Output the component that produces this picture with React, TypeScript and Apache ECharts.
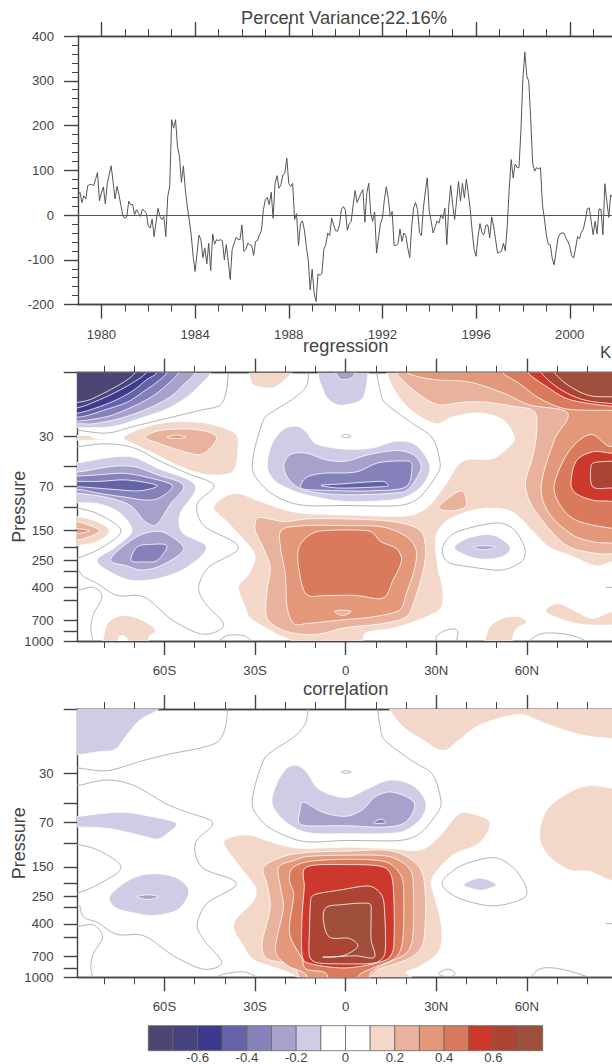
import React, { useEffect, useRef } from "react";
import * as echarts from "echarts";

const FONT = "Liberation Sans";
const INK = "#444";

const startYear = 1979;
const monthlyIndex = [
  45, 51, 28, 43, 36, 66, 68, 68, 66, 80, 95, 32, 49, 63, 25, 70, 90, 110, 73, 36, 64, 45, 21, -1, -7, -4, 31, 23, 24, 1, 12, 4,
  -3, 13, 10, 4, -24, -29, -9, -48, -16, 15, -3, -10, -3, -48, 42, 64, 213, 194, 213, 153, 131, 73, 110, 57, 19, -10, -44, -92, -126, -85,
  -45, -55, -95, -74, -109, -63, -124, -42, -65, -55, -57, -55, -57, -100, -66, -103, -144, -77, -63, -50, -54, -55, -22, -81, -77, -63, -66, -68, -90, -59,
  -57, -44, -35, 12, 34, 39, 23, 51, -7, 71, 88, 60, 68, 90, 94, 127, 71, 64, 71, -10, 3, -68, -19, -13, -33, -70, -100, -167,
  -121, -174, -193, -131, -135, -130, -76, -66, -40, -46, -7, -22, -35, -36, -22, 13, 19, 12, -34, -19, -14, 23, 55, 28, 38, 49, 57, -16,
  49, 71, 4, -14, 7, -85, -51, -19, -7, 34, 63, 38, -3, 8, -68, -68, -64, -31, -59, -40, -46, -74, -95, -25, 16, 28, 12, -39,
  -46, 16, 53, 83, 8, -14, -40, -27, -13, -18, 1, -8, 16, -66, 19, 66, 23, -10, 31, 75, 31, 71, 38, 80, 49, 12, -36, -77,
  -92, -48, -19, -40, -44, -23, -22, -51, -4, -25, -55, -85, -83, -81, -63, -80, -22, 60, 124, 83, 114, 106, 106, 191, 306, 364, 310, 299, 213, 116,
  98, 106, 103, 106, 23, -7, -44, -65, -66, -96, -111, -81, -51, -42, -40, -40, -51, -59, -70, -90, -96, -74, -48, -53, -38, -31, -10, 14, 16, -14,
  -44, -14, -42, 14, 12, -44, 70, 31, -5, 45, 39,
];
const yearMajor = [1980, 1984, 1988, 1992, 1996, 2000];
const yearMinor = [1981, 1982, 1983, 1985, 1986, 1987, 1989, 1990, 1991, 1993, 1994, 1995, 1997, 1998, 1999, 2001, 2002];

const latMajor = [-60, -30, 0, 30, 60];
const latMinor = [-80, -70, -50, -40, -20, -10, 10, 20, 40, 50, 70, 80];
const latNames: Record<string, string> = { "-60": "60S", "-30": "30S", "0": "0", "30": "30N", "60": "60N" };
const pressureTicks = [10, 30, 50, 70, 100, 150, 200, 250, 300, 400, 500, 700, 850, 1000];
const pressureLabels = [30, 70, 150, 250, 400, 700, 1000];

const palette = ["#4b4672", "#47437f", "#3b3a8c", "#6563a8", "#8582bb", "#a7a1cc", "#cfcce6", "#ffffff", "#ffffff", "#f3d8c9", "#e9b29c", "#e29879", "#da7a5c", "#cc392c", "#ab4432", "#9e4f3b"];
const barEdges = [-0.8, -0.7, -0.6, -0.5, -0.4, -0.3, -0.2, -0.1, 0, 0.1, 0.2, 0.3, 0.4, 0.5, 0.6, 0.7, 0.8];
const barLabels = [-0.6, -0.4, -0.2, 0, 0.2, 0.4, 0.6];

type Pt = number[];
// [colour class, contour as [latitude, log10 pressure]]
const regressionWarm: [number, Pt[]][] = [
  [9, [[-43.7,2.0],[-37.1,1.9],[-29.4,1.95],[-20.5,2.02],[-13.1,2.05],[0,2.06],[14.5,2.07],[22.2,2.06],[27.7,1.99],[33.2,1.83],[38.7,1.66],[48.7,1.64],[54.2,1.55],[55.9,1.48],[52,1.35],[44.3,1.3],[35.4,1.33],[29.9,1.38],[22.2,1.29],[16.7,1.15],[13.9,1.02],[13,0.9],[96,0.9],[96,2.41],[88.2,2.41],[82.9,2.44],[75.2,2.37],[67.4,2.3],[61.9,2.18],[55.3,2.04],[47.6,2.01],[39.8,2.04],[33.2,2.11],[29.9,2.22],[30.5,2.45],[32.1,2.61],[31.6,2.75],[26.6,2.82],[16.7,2.9],[6.7,2.94],[5.6,3.02],[5.6,3.1],[-16,3.1],[-16,3.02],[-22.7,2.95],[-31.6,2.83],[-33.2,2.75],[-35.5,2.6],[-32.1,2.5],[-30,2.37],[-32.8,2.27],[-39.3,2.11]]],
  [9, [[45.9,3.06],[45.9,3.02],[47.6,2.9],[52,2.83],[57.5,2.82],[59.9,2.86],[56.4,2.91],[55.1,3.0],[55.1,3.06]]],
  [9, [[66.3,2.78],[70.2,2.72],[76.3,2.78],[81.8,2.83],[88.2,2.78],[96,2.75],[96,2.85],[88.2,2.88],[80,2.88],[73,2.85]]],
  [9, [[-31,1.08],[-27.2,1.11],[-23.8,1.11],[-20,1.05],[-17.2,0.96],[-31,0.96]]],
  [9, [[-73.5,1.48],[-66.9,1.41],[-59.2,1.37],[-48.1,1.37],[-39.3,1.42],[-35.8,1.48],[-36.2,1.68],[-38.2,1.75],[-45.9,1.76],[-54.8,1.7],[-63.6,1.6],[-70.2,1.53]]],
  [10, [[-66.4,1.48],[-61.4,1.43],[-52.5,1.42],[-45.9,1.44],[-42.8,1.48],[-44.3,1.55],[-48.1,1.61],[-54.8,1.58],[-61.4,1.53]]],
  [11, [[-59.2,1.48],[-55.9,1.465],[-52.8,1.48],[-55.9,1.49]]],
  [9, [[-80,1.47],[-84.6,1.48],[-80,1.5],[-95,1.5],[-95,1.47]]],
  [9, [[-95,2.07],[-89.5,2.07],[-82.4,2.11],[-78.2,2.18],[-82.4,2.26],[-89.5,2.29],[-95,2.29]]],
  [10, [[-95,2.11],[-89.5,2.11],[-84.6,2.14],[-81.5,2.18],[-84.6,2.22],[-89.5,2.25],[-95,2.25]]],
  [11, [[-95,2.16],[-89.5,2.16],[-84.8,2.18],[-89.5,2.2],[-95,2.2]]],
  [9, [[-79.5,3.1],[-79.5,2.9],[-76.8,2.83],[-72.4,2.81],[-66.9,2.85],[-63,2.92],[-65.2,2.97],[-66.9,3.1]]],
  [7, [[-76,3.1],[-75.1,2.97],[-73.5,2.96],[-72.4,2.99],[-72.4,3.1]]],
  [10, [[-28.8,2.08],[-20.5,2.11],[-13.1,2.09],[0,2.09],[15.6,2.11],[24.4,2.17],[26.4,2.3],[25.7,2.47],[22.7,2.7],[20,2.82],[12.3,2.87],[0,2.9],[-9.8,2.95],[-19.4,2.93],[-26,2.83],[-26,2.62],[-25,2.45],[-27.2,2.31],[-30,2.17]]],
  [11, [[-21.1,2.17],[-13,2.14],[0,2.14],[12.3,2.15],[20,2.22],[23.3,2.32],[22.7,2.47],[20,2.65],[17.8,2.77],[8.9,2.82],[0,2.84],[-13.1,2.87],[-17.2,2.87],[-19.4,2.75],[-20,2.5],[-21.6,2.3]]],
  [12, [[-15.6,2.31],[-13.1,2.23],[-8.7,2.18],[7.8,2.18],[11.7,2.26],[16.7,2.31],[18.5,2.4],[15.6,2.55],[12.3,2.68],[3.4,2.66],[-6.5,2.66],[-13.1,2.65],[-15.6,2.45]]],
  [10, [[-3.8,2.78],[-1,2.77],[1.8,2.78],[-1,2.81]]],
  [10, [[14,0.9],[16.7,1.0],[20,1.08],[25.5,1.18],[31,1.24],[38.7,1.22],[46.5,1.22],[55.3,1.25],[62.5,1.29],[63.2,1.45],[61.9,1.63],[59.5,1.83],[61.9,2.0],[69.6,2.22],[75.2,2.31],[84,2.35],[88.2,2.35],[96,2.35],[96,0.9]]],
  [11, [[19,0.9],[20.5,1.0],[28.8,1.05],[41,1.07],[52,1.15],[60.8,1.24],[73.5,1.3],[69.1,1.5],[64.7,1.85],[67.4,2.05],[75.2,2.21],[81.8,2.26],[88.2,2.27],[96,2.27],[96,0.9]]],
  [12, [[50,0.9],[52,1.0],[57.5,1.08],[64.1,1.19],[73,1.27],[88.2,1.28],[96,1.28],[96,0.9]]],
  [13, [[58,0.9],[60.3,1.0],[66.3,1.1],[74.1,1.2],[88.2,1.25],[96,1.25],[96,0.9]]],
  [14, [[62.5,0.9],[64.7,1.0],[70.8,1.12],[78.5,1.2],[88.2,1.23],[96,1.23],[96,0.9]]],
  [15, [[67,0.9],[69.1,1.0],[74.1,1.1],[80.7,1.17],[88.2,1.18],[96,1.18],[96,0.9]]],
  [12, [[81.2,1.46],[74.1,1.58],[69.1,1.83],[70.8,1.98],[76.3,2.1],[88.2,2.16],[96,2.16],[96,1.4],[88.2,1.55]]],
  [13, [[74.6,1.83],[76.3,1.66],[81.8,1.59],[88.2,1.6],[96,1.6],[96,2.0],[88.2,1.96],[81.8,1.95],[76.3,1.9]]],
  [14, [[81.2,1.7],[82.3,1.67],[88.2,1.66],[96,1.66],[96,1.87],[88.2,1.86],[81.8,1.85]]],
  [10, [[30.8,2.0],[38.2,1.88],[39.8,1.995],[34.3,2.03]]],
];
const regressionCool: [number, Pt[]][] = [
  [6, [[-44.6,1],[-48.1,1.09],[-52.5,1.18],[-59.2,1.27],[-68,1.34],[-76.8,1.4],[-84.6,1.41],[-88.5,1.41],[-95,1.41],[-95,0.9],[-43,0.9]]],
  [5, [[-49.8,1],[-53.7,1.09],[-58.1,1.18],[-65.8,1.27],[-74.6,1.34],[-83.5,1.38],[-88.5,1.38],[-95,1.38],[-95,0.9],[-48,0.9]]],
  [4, [[-55.3,1],[-59.2,1.09],[-63.6,1.17],[-70.2,1.25],[-77.9,1.32],[-84.6,1.35],[-88.5,1.36],[-95,1.36],[-95,0.9],[-54,0.9]]],
  [3, [[-59.2,1],[-62.5,1.07],[-66.9,1.14],[-72.4,1.22],[-80.1,1.28],[-85.7,1.32],[-88.5,1.33],[-95,1.33],[-95,0.9],[-58,0.9]]],
  [2, [[-62.5,1],[-65.8,1.05],[-70.2,1.13],[-75.7,1.2],[-82.4,1.26],[-88.5,1.3],[-95,1.31],[-95,0.9],[-61,0.9]]],
  [1, [[-66.1,1],[-70.2,1.07],[-75.7,1.14],[-82.4,1.21],[-88.5,1.26],[-95,1.27],[-95,0.9],[-65,0.9]]],
  [0, [[-69.7,1],[-73.5,1.07],[-79,1.14],[-84.6,1.2],[-88.5,1.22],[-95,1.23],[-95,0.9],[-68,0.9]]],
  [6, [[-95,1.67],[-88.5,1.67],[-77.9,1.63],[-70.2,1.63],[-62.5,1.71],[-49.8,1.84],[-54.8,2.05],[-54.2,2.19],[-46.1,2.3],[-52.5,2.45],[-61.4,2.53],[-70.2,2.55],[-76.8,2.5],[-82.4,2.4],[-76.3,2.3],[-70.8,2.18],[-74.6,2.05],[-81.3,1.98],[-88.5,1.97],[-95,1.97]]],
  [5, [[-95,1.74],[-88.5,1.74],[-77.9,1.7],[-70.2,1.7],[-62.5,1.76],[-53.7,1.84],[-58.1,1.98],[-61.4,2.1],[-63.6,2.14],[-66.9,2.1],[-71.3,1.99],[-79,1.93],[-88.5,1.9],[-95,1.9]]],
  [4, [[-95,1.77],[-88.5,1.77],[-81.3,1.76],[-73.5,1.75],[-65.8,1.78],[-57.5,1.84],[-61.4,1.93],[-65.8,1.95],[-72.4,1.93],[-81.3,1.9],[-88.5,1.87],[-95,1.87]]],
  [3, [[-95,1.81],[-88.5,1.81],[-81.3,1.81],[-72.4,1.8],[-62.5,1.84],[-68,1.88],[-76.8,1.87],[-88.5,1.85],[-95,1.85]]],
  [5, [[-77.9,2.4],[-73.5,2.29],[-66.9,2.2],[-60.3,2.19],[-53.7,2.3],[-55.9,2.37],[-62.5,2.45],[-68,2.47],[-72.4,2.44]]],
  [4, [[-71.1,2.4],[-69.1,2.3],[-64.7,2.28],[-59.2,2.29],[-62.5,2.4],[-66.9,2.41]]],
  [6, [[-26,1.7],[-24.4,1.53],[-20.5,1.42],[-16.1,1.4],[-13.1,1.44],[-9.8,1.53],[0,1.57],[8.9,1.56],[16.7,1.51],[23.3,1.54],[27.9,1.7],[25,1.85],[17.8,1.94],[0,1.96],[-13.1,1.91],[-19.4,1.86],[-23.8,1.8]]],
  [5, [[-20.5,1.7],[-18.3,1.61],[-13,1.6],[-6.5,1.65],[0,1.66],[7.8,1.61],[16.7,1.58],[22.2,1.61],[25,1.7],[22.2,1.83],[18.9,1.89],[0,1.91],[-13.1,1.88],[-18.3,1.81]]],
  [4, [[-15,1.85],[-13,1.78],[-7.6,1.75],[3.4,1.74],[11.1,1.67],[21.1,1.66],[22,1.7],[20,1.85],[8.9,1.88],[-2.1,1.88],[-13.1,1.87]]],
  [3, [[-8.2,1.84],[-2.1,1.83],[12.3,1.81],[14.2,1.84],[12.3,1.85],[-2.1,1.86]]],
  [6, [[-8.2,0.95],[-7.1,1.15],[-3.8,1.23],[0,1.24],[5.6,1.19],[7.3,1.02],[7.3,0.95]]],
  [5, [[-3.8,0.95],[-2.1,1.04],[0,1.05],[2.3,1.03],[3.4,0.95]]],
  [6, [[36,2.3],[40.9,2.23],[48.7,2.21],[54.4,2.3],[52,2.37],[45.4,2.39],[39.8,2.36]]],
  [5, [[42.1,2.3],[45.9,2.29],[49.8,2.3],[45.9,2.32]]],
];
const regressionZero: [boolean, Pt[]][] = [
  [false, [[-38.8,0.98],[-39.5,1.13],[-41.5,1.24],[-48.1,1.28],[-59.2,1.34],[-70.2,1.4],[-79,1.45],[-88.5,1.43],[-92,1.43]]],
  [false, [[-92,1.55],[-88.5,1.55],[-79,1.53],[-70.2,1.56],[-61.4,1.66],[-52.5,1.75],[-43.7,1.84],[-49.2,1.98],[-47,2.14],[-35.5,2.3],[-45.4,2.45],[-48.7,2.6],[-46.5,2.72],[-40.4,2.88],[-47,2.95],[-57,2.85],[-66.9,2.67],[-75.7,2.66],[-82.4,2.57],[-86.8,2.52],[-88.5,2.47]]],
  [false, [[-92,2.0],[-88.5,2.01],[-81.3,2.06],[-74.4,2.18],[-81.3,2.31],[-88.5,2.38],[-92,2.39]]],
  [false, [[-92,2.62],[-88.5,2.62],[-83.5,2.6],[-80.7,2.67],[-83.5,2.8],[-84.4,2.9],[-83.5,3.03]]],
  [false, [[-12.3,0.98],[-13,1.1],[-17.2,1.19],[-22.7,1.27],[-27.2,1.35],[-31,1.7],[-27.2,1.85],[-20.5,1.95],[-13.1,1.99],[0,1.99],[17.8,1.99],[24.4,1.93],[30.5,1.75],[31.3,1.68],[28.8,1.49],[22.2,1.38],[12.8,1.22],[11.4,1.13],[10,0.98]]],
  [true, [[-1.5,1.475],[0,1.46],[1.8,1.475],[0,1.485]]],
  [true, [[32.1,2.3],[36.5,2.19],[49.8,2.12],[55.3,2.16],[59.2,2.3],[58.6,2.4],[52,2.47],[42.1,2.45],[33.8,2.41]]],
  [false, [[31,3.02],[29.9,2.97],[33.2,2.92],[37,2.92],[36.5,3.02]]],
  [false, [[60,3.01],[64.2,2.95],[68.6,2.94],[75.2,2.96],[80.7,3.01]]],
  [false, [[-42.6,3.01],[-39.3,2.96],[-33.8,2.96],[-30.5,3.01]]],
  [false, [[86.2,2.6],[92,2.6]]],
];
const correlationWarm: [number, Pt[]][] = [
  [9, [[14.5,1],[18.9,1.13],[25.5,1.23],[32.3,1.31],[37.6,1.23],[44.3,1.12],[57.5,1.04],[66.3,1.11],[77.4,1.19],[88.2,1.22],[96,1.22],[96,0.9],[13,0.9]]],
  [9, [[64.7,1.85],[67.4,1.73],[74.1,1.62],[80.7,1.57],[88.2,1.59],[96,1.6],[96,2.3],[88.2,2.28],[80.7,2.21],[74.1,2.2],[67.4,2.1],[64.4,1.98]]],
  [9, [[-40.4,2.0],[-37.1,1.95],[-31.7,1.94],[-26.2,1.98],[-18.3,2.03],[-13,2.04],[0,2.03],[14.5,2.04],[24.9,2.05],[31,1.95],[37.6,1.78],[43.2,1.79],[47.8,1.85],[44.3,2.0],[35.4,2.09],[29.4,2.23],[28.3,2.3],[31.6,2.6],[31,2.8],[24.4,2.92],[20,2.96],[22.2,3.01],[22,3.1],[-14,3.1],[-15.6,3.01],[-20.5,2.95],[-30.5,2.87],[-33.8,2.77],[-37.1,2.6],[-30.5,2.43],[-29.9,2.33],[-34.9,2.18]]],
  [10, [[-27.2,2.18],[-20.6,2.1],[-13,2.07],[0,2.06],[15.6,2.06],[24.4,2.18],[26.4,2.4],[26,2.7],[24.4,2.8],[20,2.87],[11.1,2.94],[7.8,3.01],[7.8,3.1],[-13,3.1],[-17.2,2.92],[-26.1,2.86],[-27.7,2.75],[-25,2.48],[-26.1,2.3]]],
  [11, [[-22.2,2.18],[-17.2,2.13],[-13,2.1],[0,2.09],[14.5,2.1],[21.1,2.19],[22.4,2.33],[22.2,2.7],[20,2.82],[13.2,2.9],[8.9,2.95],[7.8,3.0],[7.8,3.1],[-13,3.1],[-13.1,2.98],[-19.4,2.91],[-23.3,2.8],[-20.6,2.48],[-21.6,2.33]]],
  [12, [[-17.8,2.19],[-13,2.14],[0,2.12],[13.4,2.14],[18.3,2.24],[19.2,2.38],[18.9,2.72],[16.7,2.85],[10,2.92],[5.1,2.97],[4,3.0],[4,3.1],[-5,3.1],[-6.5,2.97],[-13.1,2.94],[-14.5,2.86],[-18.6,2.67],[-17.2,2.38],[-18.6,2.28]]],
  [13, [[-13.1,2.18],[0,2.16],[12.8,2.18],[15.6,2.29],[15.9,2.77],[13.4,2.87],[0,2.93],[-13.1,2.89],[-14.5,2.82],[-14.5,2.57],[-13.7,2.33]]],
  [14, [[-11.5,2.41],[-9.8,2.38],[-2.1,2.35],[7.8,2.32],[11.7,2.38],[12.8,2.48],[13,2.82],[10,2.89],[0,2.9],[-9.8,2.89],[-12,2.84],[-12,2.65]]],
  [15, [[-6.5,2.48],[-2.1,2.46],[7.8,2.45],[8.4,2.52],[8.4,2.72],[9.5,2.85],[3.4,2.84],[-7.6,2.85],[-1,2.84],[4,2.77],[1.2,2.71],[-5.4,2.7],[-7.4,2.57]]],
];
const correlationCool: [number, Pt[]][] = [
  [6, [[-61.9,1],[-68,1.08],[-72.4,1.19],[-76.3,1.3],[-82.4,1.32],[-88.5,1.34],[-95,1.34],[-95,0.9],[-60,0.9]]],
  [6, [[-95,1.8],[-88.5,1.8],[-81.3,1.78],[-73.5,1.77],[-64.7,1.8],[-56.1,1.85],[-59.2,1.93],[-62.5,1.97],[-70.2,1.93],[-79,1.89],[-88.5,1.88],[-95,1.88]]],
  [6, [[-78.2,2.4],[-73.5,2.3],[-68,2.24],[-61.4,2.23],[-55.9,2.26],[-52.3,2.33],[-52.3,2.4],[-55.9,2.5],[-63.6,2.54],[-70.2,2.52],[-76.3,2.48]]],
  [5, [[-69.1,2.4],[-65.5,2.385],[-62,2.4],[-65.5,2.42]]],
  [6, [[-24.4,1.7],[-22.7,1.55],[-19.4,1.44],[-16.1,1.42],[-13,1.47],[-8.7,1.6],[0,1.66],[6.8,1.6],[14.5,1.53],[22.2,1.57],[26.6,1.7],[24.4,1.83],[17.8,1.92],[0,1.93],[-13.1,1.92],[-20.5,1.83]]],
  [5, [[-14.5,1.7],[-13.1,1.7],[-7.6,1.77],[0,1.8],[5.6,1.75],[10,1.65],[15.6,1.62],[22.7,1.7],[20,1.84],[13.2,1.88],[0,1.87],[-13.1,1.87],[-15.6,1.84],[-15,1.74]]],
  [4, [[9.3,1.85],[11.7,1.82],[13.1,1.85]]],
  [6, [[39,2.31],[44.3,2.26],[49.8,2.31],[45.4,2.35],[42.1,2.34]]],
];
const correlationZero: [boolean, Pt[]][] = [
  [false, [[-39,0.98],[-39.8,1.13],[-42.1,1.24],[-48.1,1.29],[-59.2,1.34],[-68,1.39],[-79,1.46],[-88.5,1.44],[-92,1.44]]],
  [false, [[-92,1.58],[-88.5,1.57],[-79,1.53],[-70.2,1.57],[-59.2,1.71],[-52.5,1.77],[-44,1.85],[-49.8,2.0],[-47.6,2.18],[-36.2,2.3],[-46,2.45],[-49.2,2.61],[-47,2.72],[-41.1,2.89],[-47,2.94],[-57,2.84],[-66.9,2.69],[-75.7,2.68],[-82.4,2.59],[-86.8,2.55],[-88.1,2.46]]],
  [false, [[-92,2.0],[-88.5,2.01],[-81.3,2.06],[-74.4,2.18],[-81.3,2.3],[-88.5,2.37],[-92,2.38]]],
  [false, [[-92,2.62],[-88.5,2.62],[-83.5,2.61],[-80.5,2.7],[-83.5,2.82],[-84.4,2.92],[-83.5,3.03]]],
  [false, [[-12.3,0.98],[-13.4,1.11],[-17.2,1.21],[-22.7,1.29],[-27.2,1.38],[-31,1.7],[-27.2,1.85],[-20.5,1.94],[-13,1.99],[0,1.98],[17.8,1.98],[24.4,1.93],[30.5,1.77],[31.6,1.69],[28.8,1.49],[22.2,1.39],[12.8,1.23],[11.4,1.13],[10.4,0.98]]],
  [true, [[-1.5,1.47],[0,1.46],[1.8,1.47],[0,1.48]]],
  [true, [[31.9,2.3],[36.5,2.19],[43.2,2.13],[49.8,2.11],[55.3,2.18],[59.2,2.3],[59.5,2.4],[52,2.46],[45.4,2.46],[36.5,2.4]]],
  [true, [[30.8,2.97],[33.8,2.94],[36.2,2.97],[34.3,3],[32.1,2.99]]],
  [false, [[60.8,3.01],[64.1,2.94],[68.6,2.93],[75.2,2.96],[81.8,3.01]]],
  [false, [[-42.1,2.99],[-39.3,2.97],[-33.8,2.96],[-30,2.99]]],
  [false, [[86.2,2.6],[92,2.6]]],
];

function spline(p: number[][], closed: boolean): number[][] {
  const n = p.length;
  if (n < 3) return p;
  const at = (i: number) => (closed ? p[(i + n) % n] : p[Math.max(0, Math.min(n - 1, i))]);
  const out: number[][] = [];
  const segs = closed ? n : n - 1;
  const limit = (m: number[], len: number) => {
    const l = Math.hypot(m[0], m[1]);
    return l > len && l > 0 ? [(m[0] * len) / l, (m[1] * len) / l] : m;
  };
  for (let i = 0; i < segs; i++) {
    const a = at(i - 1), b = at(i), c = at(i + 1), d = at(i + 2);
    const len = Math.hypot(c[0] - b[0], c[1] - b[1]);
    const m1 = limit([(c[0] - a[0]) / 2, (c[1] - a[1]) / 2], len);
    const m2 = limit([(d[0] - b[0]) / 2, (d[1] - b[1]) / 2], len);
    const c1 = [b[0] + m1[0] / 3, b[1] + m1[1] / 3];
    const c2 = [c[0] - m2[0] / 3, c[1] - m2[1] / 3];
    for (let k = 0; k < 8; k++) {
      const t = k / 8, u = 1 - t;
      out.push([
        u * u * u * b[0] + 3 * u * u * t * c1[0] + 3 * u * t * t * c2[0] + t * t * t * c[0],
        u * u * u * b[1] + 3 * u * u * t * c1[1] + 3 * u * t * t * c2[1] + t * t * t * c[1],
      ]);
    }
  }
  if (!closed) out.push(p[n - 1]);
  return out;
}

const axisLine = { show: true, onZero: false, lineStyle: { color: INK, width: 1.4 } };
const tickFont = { fontFamily: FONT, fontSize: 13.2, color: INK };

function xAxes(min: number, max: number, major: number[], minor: number[], grid: number, fmt: (v: number) => string) {
  const base = { type: "value", min, max, gridIndex: grid, splitLine: { show: false }, axisLine };
  const off = { axisLabel: { show: false } };
  const tick = (vals: number[], length: number, width: number) => ({ show: true, customValues: vals, length, lineStyle: { color: INK, width } });
  return [
    { ...base, position: "bottom", axisTick: tick(major, 14, 1.4), axisLabel: { ...tickFont, show: true, customValues: major, margin: 23, formatter: fmt } },
    { ...base, position: "bottom", axisTick: tick(minor, 7, 1), ...off },
    { ...base, position: "top", axisTick: tick(major, 14, 1.4), ...off },
    { ...base, position: "top", axisTick: tick(minor, 7, 1), ...off },
  ];
}

function contourSeries(warm: [number, Pt[]][], cool: [number, Pt[]][], zero: [boolean, Pt[]][], grid: number, axisStart: number) {
  const bands = [...warm, ...cool];
  return [
    {
      type: "custom", coordinateSystem: "cartesian2d", xAxisIndex: axisStart, yAxisIndex: grid, clip: true, silent: true, z: 2,
      data: bands.map((b) => [b[1][0][0], b[1][0][1]]),
      renderItem: (params: any, api: any) => {
        const b = bands[params.dataIndex];
        return { type: "polygon", shape: { points: spline(b[1].map((q) => api.coord(q)), true) }, style: { fill: palette[b[0]], stroke: "#fff", lineWidth: 0.8 } };
      },
    },
    {
      type: "custom", coordinateSystem: "cartesian2d", xAxisIndex: axisStart, yAxisIndex: grid, clip: true, silent: true, z: 3,
      data: zero.map((b) => [b[1][0][0], b[1][0][1]]),
      renderItem: (params: any, api: any) => {
        const b = zero[params.dataIndex];
        const points = spline(b[1].map((q) => api.coord(q)), b[0]);
        const style = { fill: "none", stroke: "#aaaaaa", lineWidth: 0.9 };
        return b[0] ? { type: "polygon", shape: { points }, style } : { type: "polyline", shape: { points }, style };
      },
    },
  ];
}

function pressureAxis(grid: number) {
  return {
    type: "value", gridIndex: grid, min: 1, max: 3, inverse: true, position: "left", splitLine: { show: false }, axisLine,
    name: "Pressure", nameLocation: "middle", nameGap: 50, nameRotate: 90, nameMoveOverlap: false,
    nameTextStyle: { fontFamily: FONT, fontSize: 18, color: INK },
    axisTick: { show: true, customValues: pressureTicks.map(Math.log10), length: 14, lineStyle: { color: INK, width: 1.4 } },
    axisLabel: { ...tickFont, customValues: pressureLabels.map(Math.log10), margin: 24, formatter: (v: number) => String(Math.round(Math.pow(10, v))) },
  };
}

const latFmt = (v: number) => latNames[String(Math.round(v))] ?? "";
const title = (text: string, left: number, top: number, size = 18.3, align = "center") => ({
  text, left, top, textAlign: align, padding: 0,
  textStyle: { fontFamily: FONT, fontSize: size, fontWeight: "normal", color: INK },
});

export default function App() {
  const ref = useRef<HTMLDivElement>(null);
  useEffect(() => {
    document.body.style.margin = "0";
    const chart = echarts.init(ref.current!, null, { renderer: "svg" });
    const free = { outerBoundsMode: "none" };
    chart.setOption({
      animation: false,
      backgroundColor: "#fff",
      title: [title("Percent Variance:22.16%", 344, 8), title("regression", 345.7, 336), title("correlation", 345.7, 679), title("K", 600, 344, 17, "left")],
      grid: [
        { left: 78, top: 36, width: 562, height: 268.6, ...free },
        { left: 77.7, top: 372.7, width: 536, height: 268.3, ...free },
        { left: 77.7, top: 709, width: 536, height: 268.3, ...free },
        { left: 148.3, top: 1025.7, width: 394.4, height: 25, ...free },
      ],
      xAxis: [
        ...xAxes(startYear, 2003, yearMajor, yearMinor, 0, (v) => String(v)),
        ...xAxes(-88.75, 88.75, latMajor, latMinor, 1, latFmt),
        ...xAxes(-88.75, 88.75, latMajor, latMinor, 2, latFmt),
        {
          type: "value", gridIndex: 3, min: -0.8, max: 0.8, position: "bottom", splitLine: { show: false },
          axisLine: { show: false }, axisTick: { show: false },
          axisLabel: { ...tickFont, customValues: barLabels, margin: 0, formatter: (v: number) => (Math.abs(v) < 1e-9 ? "0" : v.toFixed(1)) },
        },
      ],
      yAxis: [
        {
          type: "value", gridIndex: 0, min: -200, max: 400, interval: 100, position: "left", splitLine: { show: false }, axisLine,
          axisTick: { show: true, length: 14, lineStyle: { color: INK, width: 1.4 } },
          minorTick: { show: true, splitNumber: 5, length: 6, lineStyle: { color: INK, width: 1 } },
          axisLabel: { ...tickFont, margin: 24 },
        },
        pressureAxis(1),
        pressureAxis(2),
        { type: "value", gridIndex: 3, min: 0, max: 1, show: false },
      ],
      series: [
        {
          type: "line", xAxisIndex: 0, yAxisIndex: 0, showSymbol: false, silent: true, z: 3,
          data: monthlyIndex.map((v, i) => [startYear + i / 12, v]),
          lineStyle: { color: "#555", width: 1 },
          markLine: { silent: true, symbol: "none", label: { show: false }, lineStyle: { color: "#555", width: 1, type: "solid" }, data: [{ yAxis: 0 }] },
        },
        ...contourSeries(regressionWarm, regressionCool, regressionZero, 1, 4),
        ...contourSeries(correlationWarm, correlationCool, correlationZero, 2, 8),
        {
          type: "custom", coordinateSystem: "cartesian2d", xAxisIndex: 12, yAxisIndex: 3, silent: true,
          data: palette.map((_, i) => [barEdges[i], barEdges[i + 1], i]),
          renderItem: (params: any, api: any) => {
            const a = api.coord([api.value(0), 1]);
            const b = api.coord([api.value(1), 0]);
            return {
              type: "rect",
              shape: { x: a[0], y: a[1], width: b[0] - a[0], height: b[1] - a[1] },
              style: { fill: palette[params.dataIndex], stroke: "#666", lineWidth: 0.8 },
            };
          },
        },
      ],
    });
    return () => chart.dispose();
  }, []);
  return <div ref={ref} style={{ position: "absolute", left: 0, top: 0, width: 612, height: 1064, overflow: "hidden" }} />;
}
